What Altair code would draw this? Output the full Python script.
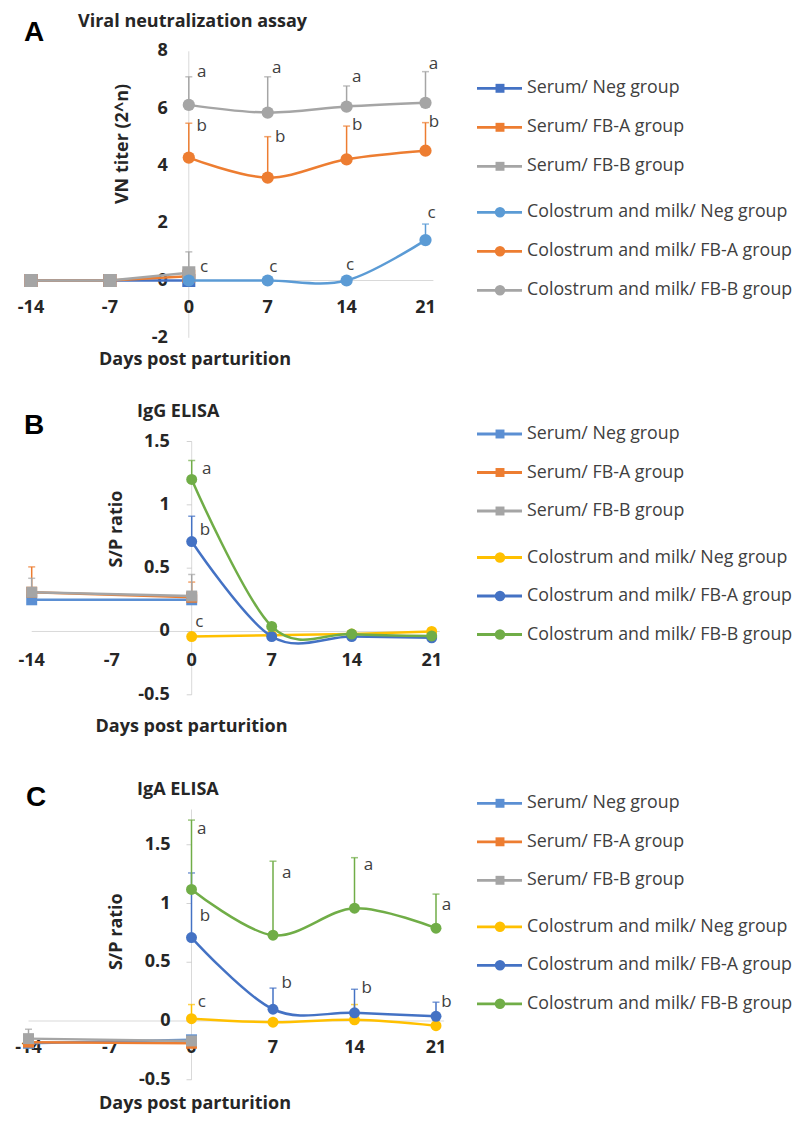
import altair as alt
import pandas as pd

# ---------------- data ----------------
LABELS = ["Serum/ Neg group", "Serum/ FB-A group", "Serum/ FB-B group",
          "Colostrum and milk/ Neg group", "Colostrum and milk/ FB-A group",
          "Colostrum and milk/ FB-B group"]

X_TICKS = [-14, -7, 0, 7, 14, 21]
DAYS_SERUM_A = [-14, -7, 0]
DAYS_SERUM_BC = [-14, 0]
DAYS_MILK = [0, 7, 14, 21]

# Panel A : Viral neutralization assay (VN titer 2^n)
A_serum_neg = [0, 0, 0]
A_serum_fba = [0, 0, 0.15]
A_serum_fbb = [0, 0, 0.27]
A_serum_neg_err = [None, None, None]
A_serum_fba_err = [None, None, None]
A_serum_fbb_err = [None, None, 1.0]
A_milk_neg = [0, 0, 0, 1.41]
A_milk_fba = [4.29, 3.59, 4.23, 4.53]
A_milk_fbb = [6.13, 5.86, 6.07, 6.20]
A_milk_neg_err = [None, None, None, 1.97]
A_milk_fba_err = [5.49, 5.02, 5.39, 5.51]
A_milk_fbb_err = [7.11, 7.11, 6.79, 7.29]
A_let = ["a", "a", "a", "a", "b", "b", "b", "b", "c", "c", "c", "c"]
A_let_x = [1.14, 7.8, 14.9, 21.7, 1.14, 8.1, 14.95, 21.75, 1.35, 7.5, 14.3, 21.55]
A_let_y = [7.29, 7.41, 7.09, 7.56, 5.39, 5.02, 5.43, 5.54, 0.46, 0.48, 0.54, 2.35]

# Panel B : IgG ELISA (S/P ratio)
B_serum_neg = [0.25, 0.25]
B_serum_fba = [0.31, 0.27]
B_serum_fbb = [0.31, 0.28]
B_serum_neg_err = [None, None]
B_serum_fba_err = [0.51, 0.39]
B_serum_fbb_err = [0.42, 0.45]
B_milk_neg = [-0.04, -0.03, -0.02, 0.0]
B_milk_fba = [0.71, -0.04, -0.04, -0.05]
B_milk_fbb = [1.20, 0.04, -0.02, -0.035]
B_milk_neg_err = [None, None, None, None]
B_milk_fba_err = [0.91, None, None, None]
B_milk_fbb_err = [1.35, None, None, None]
B_let = ["a", "b", "c"]
B_let_x = [1.31, 1.16, 0.66]
B_let_y = [1.28, 0.80, 0.077]

# Panel C : IgA ELISA (S/P ratio)
C_serum_neg = [-0.19, -0.16]
C_serum_fba = [-0.18, -0.19]
C_serum_fbb = [-0.15, -0.17]
C_serum_neg_err = [None, None]
C_serum_fba_err = [None, None]
C_serum_fbb_err = [-0.07, None]
C_milk_neg = [0.02, -0.01, 0.01, -0.04]
C_milk_fba = [0.71, 0.10, 0.07, 0.04]
C_milk_fbb = [1.12, 0.73, 0.96, 0.79]
C_milk_neg_err = [0.14, None, 0.14, None]
C_milk_fba_err = [1.26, 0.28, 0.27, 0.16]
C_milk_fbb_err = [1.71, 1.36, 1.39, 1.08]
C_let = ["a", "b", "c", "a", "b", "a", "b", "a", "b"]
C_let_x = [0.88, 1.16, 0.88, 8.18, 8.18, 15.19, 15.05, 21.9, 21.9]
C_let_y = [1.63, 0.89, 0.16, 1.26, 0.32, 1.33, 0.28, 0.99, 0.16]

COLORS_A = ["#4472C4", "#ED7D31", "#A5A5A5", "#5B9BD5", "#ED7D31", "#A5A5A5"]
COLORS_BC = ["#5B8FD3", "#ED7D31", "#A5A5A5", "#FFC000", "#4472C4", "#70AD47"]

FONT = "Open Sans"
DARK = "#262626"
GREY_TXT = "#404040"
AXIS_GREY = "#d9d9d9"

# ---------------- layout of each panel (chart pixel coords) ----------------
PA = dict(xr=[23, 417.5], yd=[-2, 8], yr=[329.8, 43.3], ytop=8,
          yticks=[8, 6, 4, 2, 0, -2], ylabels=["8", "6", "4", "2", "0", "-2"],
          ydx=-21, xdy=27.5, ticks=False, sq=170, ci=150)
PB = dict(xr=[23.7, 423.7], yd=[-0.5, 1.5], yr=[686.8, 433.5], ytop=1.5,
          yticks=[1.5, 1, 0.5, 0, -0.5], ylabels=["1.5", "1", "0.5", "0", "-0.5"],
          ydx=-22, xdy=30, ticks=True, sq=120, ci=120)
PC = dict(xr=[20.5, 428], yd=[-0.5, 1.8], yr=[1071.75, 801.5], ytop=1.8,
          yticks=[1.5, 1, 0.5, 0, -0.5], ylabels=["1.5", "1", "0.5", "0", "-0.5"],
          ydx=-21, xdy=27.3, ticks=True, sq=120, ci=120)


def X(field, P):
    return alt.X(f"{field}:Q", axis=None,
                 scale=alt.Scale(domain=[-14, 21], range=P["xr"], nice=False, zero=False))


def Y(field, P):
    return alt.Y(f"{field}:Q", axis=None,
                 scale=alt.Scale(domain=P["yd"], range=P["yr"], nice=False, zero=False))


def axis_layers(P):
    L = []
    zl = pd.DataFrame({"x0": [-14], "x1": [21.7], "y": [0]})
    L.append(alt.Chart(zl).mark_rule(color=AXIS_GREY, strokeWidth=1).encode(
        x=X("x0", P), x2=alt.X2("x1"), y=Y("y", P)))
    ya = pd.DataFrame({"x": [0], "y0": [P["yd"][0]], "y1": [P["ytop"]]})
    L.append(alt.Chart(ya).mark_rule(color=AXIS_GREY, strokeWidth=1).encode(
        x=X("x", P), y=Y("y0", P), y2=alt.Y2("y1")))
    yt = pd.DataFrame({"x": [0] * len(P["yticks"]), "y": P["yticks"], "t": P["ylabels"]})
    if P["ticks"]:
        L.append(alt.Chart(yt).mark_tick(orient="horizontal", size=5, thickness=1,
                                         color="#bfbfbf", xOffset=-2.5).encode(
            x=X("x", P), y=Y("y", P)))
    L.append(alt.Chart(yt).mark_text(align="right", baseline="middle", dx=P["ydx"],
                                     font=FONT, fontSize=18, fontWeight="bold",
                                     color=DARK).encode(
        x=X("x", P), y=Y("y", P), text="t:N"))
    xt = pd.DataFrame({"x": X_TICKS, "y": [0] * len(X_TICKS), "t": [str(d) for d in X_TICKS]})
    L.append(alt.Chart(xt).mark_text(align="center", baseline="middle", dy=P["xdy"],
                                     font=FONT, fontSize=18, fontWeight="bold",
                                     color=DARK).encode(
        x=X("x", P), y=Y("y", P), text="t:N"))
    return L


def series_layers(P, days, vals, errs, color, shape, size, smooth):
    df = pd.DataFrame({"day": days, "v": vals, "e": errs})
    L = []
    dfe = df.dropna(subset=["e"])
    if len(dfe):
        L.append(alt.Chart(dfe).mark_rule(color=color, strokeWidth=1.5).encode(
            x=X("day", P), y=Y("v", P), y2=alt.Y2("e")))
        L.append(alt.Chart(dfe).mark_tick(color=color, orient="horizontal", size=7,
                                          thickness=1.5).encode(
            x=X("day", P), y=Y("e", P)))
    L.append(alt.Chart(df).mark_line(color=color, strokeWidth=2.5,
                                     interpolate="cardinal" if smooth else "linear").encode(
        x=X("day", P), y=Y("v", P)))
    L.append(alt.Chart(df).mark_point(shape=shape, filled=True, color=color, size=size,
                                      opacity=1).encode(
        x=X("day", P), y=Y("v", P)))
    return L


def letters_layer(P, let, lx, ly):
    df = pd.DataFrame({"x": lx, "y": ly, "t": let})
    return alt.Chart(df).mark_text(align="center", baseline="middle", font=FONT,
                                   fontSize=17, color=GREY_TXT).encode(
        x=X("x", P), y=Y("y", P), text="t:N")


def panel(P, serum_days, serum, serum_err, milk, milk_err, colors, let, lx, ly):
    L = axis_layers(P)
    for i in range(3):
        L += series_layers(P, serum_days, serum[i], serum_err[i], colors[i], "square", P["sq"], False)
    for i in range(3):
        L += series_layers(P, DAYS_MILK, milk[i], milk_err[i], colors[3 + i], "circle", P["ci"], True)
    L.append(letters_layer(P, let, lx, ly))
    return alt.layer(*L)


def legend(colors, row0, step, gap):
    idx = [i + (gap / step if i >= 3 else 0) for i in range(6)]
    df = pd.DataFrame({"label": LABELS, "idx": idx})
    ysc = alt.Scale(domain=[0, 5 + gap / step], range=[row0, row0 + 5 * step + gap],
                    nice=False, zero=False)
    y = alt.Y("idx:Q", scale=ysc, axis=None)
    col = alt.Color("label:N", scale=alt.Scale(domain=LABELS, range=colors), legend=None)
    base = alt.Chart(df)
    rule = base.mark_rule(strokeWidth=2.8).encode(x=alt.value(469), x2=alt.value(514), y=y, color=col)
    sq = base.transform_filter(alt.datum.idx < 3).mark_point(
        shape="square", filled=True, size=80, opacity=1).encode(x=alt.value(492), y=y, color=col)
    ci = base.transform_filter(alt.datum.idx >= 3).mark_point(
        shape="circle", filled=True, size=110, opacity=1).encode(x=alt.value(492), y=y, color=col)
    txt = base.mark_text(align="left", baseline="middle", font=FONT, fontSize=17.8,
                         color=GREY_TXT).encode(x=alt.value(519), y=y, text="label:N")
    return alt.layer(rule, sq, ci, txt)


def text_at(t, x, y, size, weight="bold", font=FONT, angle=0, align="left", color=DARK):
    df = pd.DataFrame({"t": [t]})
    return alt.Chart(df).mark_text(align=align, baseline="middle", font=font, fontSize=size,
                                   fontWeight=weight, angle=angle, color=color).encode(
        x=alt.value(x), y=alt.value(y), text="t:N")


panelA = panel(PA, DAYS_SERUM_A,
               [A_serum_neg, A_serum_fba, A_serum_fbb],
               [A_serum_neg_err, A_serum_fba_err, A_serum_fbb_err],
               [A_milk_neg, A_milk_fba, A_milk_fbb],
               [A_milk_neg_err, A_milk_fba_err, A_milk_fbb_err],
               COLORS_A, A_let, A_let_x, A_let_y)
panelB = panel(PB, DAYS_SERUM_BC,
               [B_serum_neg, B_serum_fba, B_serum_fbb],
               [B_serum_neg_err, B_serum_fba_err, B_serum_fbb_err],
               [B_milk_neg, B_milk_fba, B_milk_fbb],
               [B_milk_neg_err, B_milk_fba_err, B_milk_fbb_err],
               COLORS_BC, B_let, B_let_x, B_let_y)
panelC = panel(PC, DAYS_SERUM_BC,
               [C_serum_neg, C_serum_fba, C_serum_fbb],
               [C_serum_neg_err, C_serum_fba_err, C_serum_fbb_err],
               [C_milk_neg, C_milk_fba, C_milk_fbb],
               [C_milk_neg_err, C_milk_fba_err, C_milk_fbb_err],
               COLORS_BC, C_let, C_let_x, C_let_y)

legA = legend(COLORS_A, 80.3, 39, 7)
legB = legend(COLORS_BC, 426, 38.5, 8)
legC = legend(COLORS_BC, 795.3, 38.5, 8)

texts = alt.layer(
    text_at("A", 26, 25, 28, font="Liberation Sans", align="center", color="#000000"),
    text_at("Viral neutralization assay", 70, 14, 18),
    text_at("VN titer (2^n)", 115.3, 136, 18, angle=270, align="center"),
    text_at("Days post parturition", 187, 352, 18, align="center"),
    text_at("B", 26, 418, 28, font="Liberation Sans", align="center", color="#000000"),
    text_at("IgG ELISA", 129, 403.7, 18),
    text_at("S/P ratio", 109.3, 521, 18, angle=270, align="center"),
    text_at("Days post parturition", 183.5, 718.7, 18, align="center"),
    text_at("C", 28, 789.5, 28, font="Liberation Sans", align="center", color="#000000"),
    text_at("IgA ELISA", 129, 782, 18),
    text_at("S/P ratio", 109.3, 923.7, 18, angle=270, align="center"),
    text_at("Days post parturition", 187, 1096, 18, align="center"),
)

chart = alt.layer(panelA, legA, panelB, legB, panelC, legC, texts).resolve_scale(
    x="independent", y="independent", color="independent"
).properties(
    width=786, height=1106, padding=0, autosize=alt.AutoSizeParams(type="none")
).configure_view(stroke=None)

chart.save("out.html", embed_options={"renderer": "svg", "actions": False})
